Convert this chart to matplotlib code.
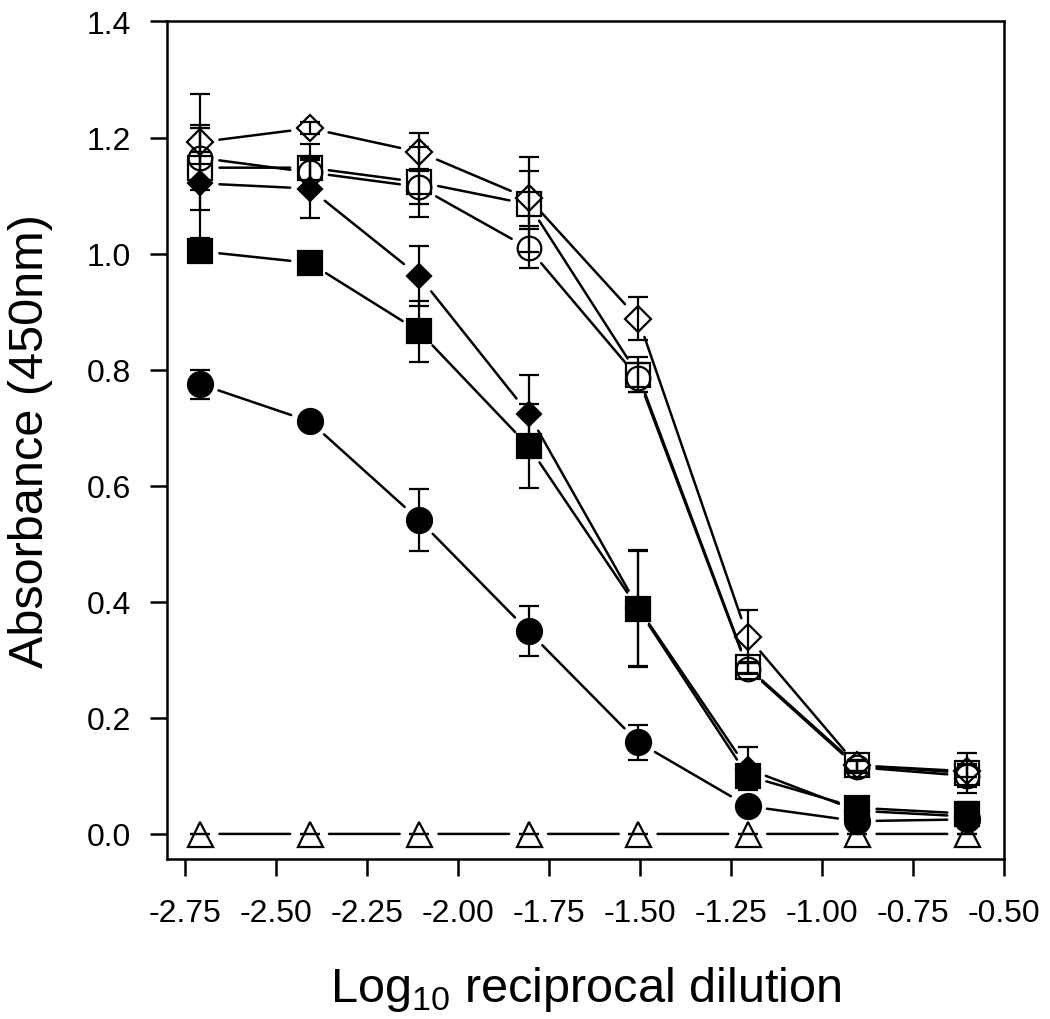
import matplotlib
matplotlib.use("Agg")
import matplotlib.pyplot as plt
import numpy as np

plt.rcParams['font.family'] = ['Liberation Sans', 'DejaVu Sans']
plt.rcParams['mathtext.fontset'] = 'custom'
plt.rcParams['mathtext.rm'] = 'Liberation Sans'
plt.rcParams['axes.unicode_minus'] = False

# log10 of reciprocal dilution (1/512 ... 1/4)
dilution = [-2.709, -2.408, -2.107, -1.806, -1.505, -1.204, -0.903, -0.602]

open_diamond = [1.192, 1.216, 1.175, 1.095, 0.888, 0.340, 0.118, 0.108]
open_diamond_err = [0.083, 0.010, 0.032, 0.048, 0.037, 0.045, 0.010, 0.010]
open_square = [1.148, 1.148, 1.123, 1.085, 0.791, 0.287, 0.118, 0.105]
open_square_err = [0.073, 0.040, 0.060, 0.082, 0.030, 0.010, 0.010, 0.035]
open_circle = [1.165, 1.140, 1.115, 1.009, 0.786, 0.285, 0.115, 0.100]
open_circle_err = [0.010, 0.025, 0.030, 0.034, 0.025, 0.010, 0.010, 0.020]
filled_diamond = [1.121, 1.112, 0.961, 0.724, 0.390, 0.112, 0.040, 0.030]
filled_diamond_err = [0.095, 0.050, 0.052, 0.067, 0.100, 0.037, 0.005, 0.005]
filled_square = [1.004, 0.984, 0.866, 0.668, 0.388, 0.100, 0.045, 0.035]
filled_square_err = [0.010, 0.010, 0.052, 0.072, 0.100, 0.010, 0.010, 0.020]
filled_circle = [0.775, 0.711, 0.541, 0.349, 0.158, 0.048, 0.022, 0.025]
filled_circle_err = [0.025, 0.005, 0.053, 0.043, 0.030, 0.005, 0.005, 0.005]
triangle = [0.0, 0.0, 0.0, 0.0, 0.0, 0.0, 0.0, 0.0]
triangle_err = [0.0, 0.0, 0.0, 0.0, 0.0, 0.0, 0.0, 0.0]

series = [
    (open_diamond, open_diamond_err, 'D', 'none', 13.5),
    (open_square, open_square_err, 's', 'none', 17),
    (open_circle, open_circle_err, 'o', 'none', 17),
    (filled_diamond, filled_diamond_err, 'D', 'k', 12),
    (filled_square, filled_square_err, 's', 'k', 17),
    (filled_circle, filled_circle_err, 'o', 'k', 18),
    (triangle, triangle_err, '^', 'none', 18),
]

fig = plt.figure(figsize=(10.5, 10.2), dpi=100)
ax = fig.add_axes([0.159, 0.157, 0.797, 0.821])

for vals, errs, mk, fc, ms in series:
    # connecting lines stop short of the markers
    for i in range(len(dilution) - 1):
        ax.annotate('', xy=(dilution[i + 1], vals[i + 1]), xytext=(dilution[i], vals[i]),
                    arrowprops=dict(arrowstyle='-', color='k', lw=1.8,
                                    shrinkA=14, shrinkB=14))
    ax.errorbar(dilution, vals, yerr=errs, fmt='none', ecolor='k',
                elinewidth=1.6, capsize=7, capthick=1.6)
    ax.plot(dilution, vals, linestyle='none', marker=mk, markerfacecolor=fc,
            markeredgecolor='k', markeredgewidth=1.6, markersize=ms)

ax.set_xlim(-2.80, -0.50)
ax.set_ylim(-0.043, 1.4)
ax.set_xticks(np.arange(-2.75, -0.49, 0.25))
ax.set_yticks(np.arange(0.0, 1.41, 0.2))
ax.set_xticklabels(["%.2f" % v for v in np.arange(-2.75, -0.49, 0.25)])
ax.set_yticklabels(["%.1f" % v for v in np.arange(0.0, 1.41, 0.2)])

for sp in ax.spines.values():
    sp.set_linewidth(1.8)
ax.tick_params(axis='both', direction='out', length=12, width=1.8, labelsize=23)
ax.tick_params(axis='y', pad=14)
ax.tick_params(axis='x', pad=16)

ax.set_xlabel(r'Log$_{10}$ reciprocal dilution', fontsize=35, labelpad=26)
ax.set_ylabel('Absorbance (450nm)', fontsize=35, labelpad=24)

fig.savefig('out.png', dpi=100)
